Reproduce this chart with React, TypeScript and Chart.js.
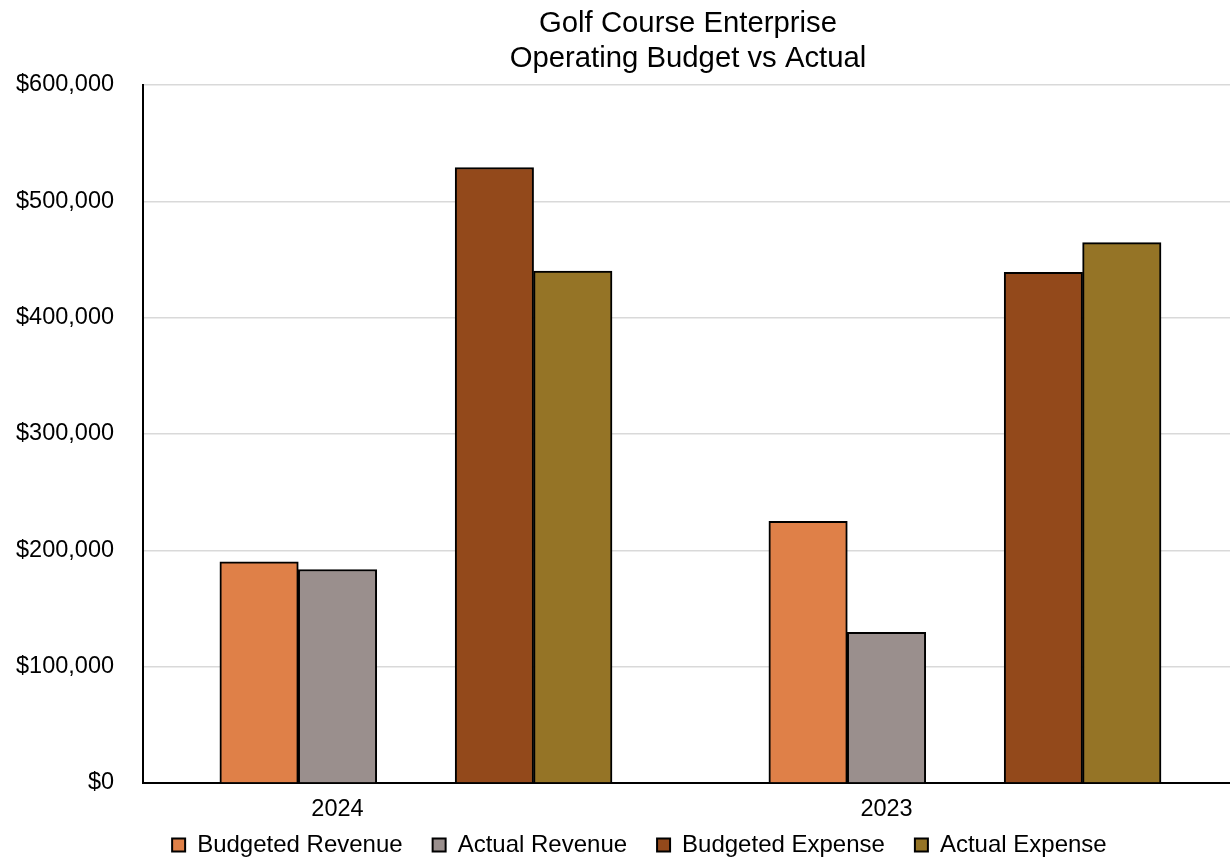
import React, { useEffect, useRef } from 'react';
import { Chart, registerables } from 'chart.js';

Chart.register(...registerables);

const categories = ['2024', '2023'];
const seriesNames = ['Budgeted Revenue', 'Actual Revenue', 'Budgeted Expense', 'Actual Expense'];
const budgetedRevenue = [190000, 225000];
const actualRevenue = [183500, 129500];
const budgetedExpense = [529000, 439000];
const actualExpense = [440000, 464500];
const yMin = 0;
const yMax = 600000;
const yStep = 100000;
const titleLines = ['Golf Course Enterprise', 'Operating Budget vs Actual'];

const colors = ['#DF8048', '#9A8F8D', '#93491B', '#957426'];

const W = 1233;
const H = 867;
const FONT = "'Liberation Sans', Arial, sans-serif";

export default function App() {
  const ref = useRef<HTMLCanvasElement | null>(null);

  useEffect(() => {
    if (!ref.current) return;
    const seriesValues = [budgetedRevenue, actualRevenue, budgetedExpense, actualExpense];
    const toPoints = (vals: number[]) => vals.map((v, i) => ({ x: i, y: v }));
    const spacer = () => ({
      label: '',
      spacer: true,
      data: categories.map((_, i) => ({ x: i, y: null })),
      backgroundColor: 'rgba(0,0,0,0)',
      borderWidth: 0,
    });
    const real = (k: number) => ({
      label: seriesNames[k],
      data: toPoints(seriesValues[k]),
      backgroundColor: colors[k],
      borderColor: '#000000',
      borderWidth: 2,
    });
    const datasets: any[] = [spacer(), spacer(), real(0), real(1), spacer(), real(2), real(3)];

    Chart.defaults.font.family = FONT;
    Chart.defaults.color = '#000000';

    const chart = new Chart(ref.current, {
      type: 'bar',
      data: { datasets },
      options: {
        animation: false,
        responsive: false,
        devicePixelRatio: 1,
        layout: { padding: { left: 45.8, right: 0, top: 0, bottom: 0 } },
        datasets: { bar: { categoryPercentage: 1, barPercentage: 1 } },
        plugins: {
          tooltip: { enabled: false },
          title: {
            display: true,
            text: titleLines,
            fullSize: false,
            color: '#000000',
            font: { family: FONT, size: 29.3, weight: 'normal', lineHeight: 1.2 },
            padding: { top: 6.4, bottom: 8.2 },
          },
          legend: {
            display: true,
            position: 'bottom',
            labels: {
              boxWidth: 13,
              boxHeight: 13,
              padding: 30,
              color: '#000000',
              font: { family: FONT, size: 24 },
              filter: (item: any, data: any) => !data.datasets[item.datasetIndex].spacer,
            },
          },
        },
        scales: {
          x: {
            type: 'linear',
            min: -0.3543,
            max: 1.6311,
            offset: false,
            grid: { display: false, offset: false, drawTicks: false },
            border: { display: true, color: '#000000', width: 2 },
            afterBuildTicks: (scale: any) => {
              scale.ticks = categories.map((_, i) => ({ value: i }));
            },
            afterFit: (scale: any) => {
              scale.height = 20;
            },
            ticks: {
              autoSkip: false,
              maxRotation: 0,
              mirror: true,
              padding: -41,
              color: '#000000',
              font: { family: FONT, size: 23.5 },
              callback: (v: any) => categories[v] ?? '',
            },
          },
          y: {
            type: 'linear',
            min: yMin,
            max: yMax,
            grid: { color: '#d9d9d9', lineWidth: 1.5, drawTicks: false },
            border: { display: true, color: '#000000', width: 2 },
            afterFit: (scale: any) => {
              scale.width = 97.2;
            },
            ticks: {
              stepSize: yStep,
              mirror: true,
              crossAlign: 'far',
              padding: -127,
              color: '#000000',
              font: { family: FONT, size: 23.5 },
              callback: (v: any) => '$' + Number(v).toLocaleString('en-US'),
            },
          },
        },
      } as any,
    });
    return () => chart.destroy();
  }, []);

  return (
    <div style={{ position: 'fixed', left: 0, top: 0, width: W, height: H, background: '#fff' }}>
      <canvas ref={ref} width={W} height={H} style={{ width: W, height: H, display: 'block' }} />
    </div>
  );
}
